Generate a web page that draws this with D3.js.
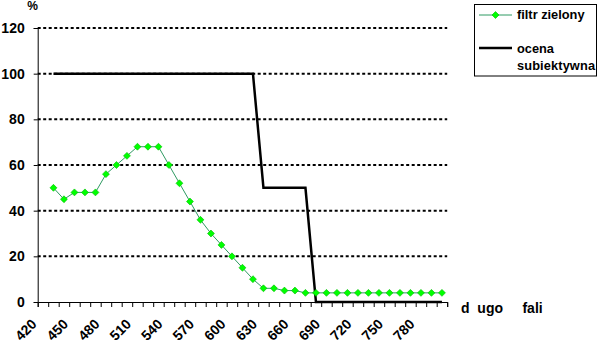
<!DOCTYPE html>
<html>
<head>
<meta charset="utf-8">
<script src="https://cdn.jsdelivr.net/npm/d3@7"></script>
<style>
  body { margin: 0; background: #fff; }
  svg { display: block; font-family: "Liberation Sans", Arial, sans-serif; font-weight: bold; }
</style>
</head>
<body>
<svg width="601" height="349"></svg>
<script>
// categories (wavelength, nm)
const categories = d3.range(420, 801, 10);
const tickLabels = [420, 450, 480, 510, 540, 570, 600, 630, 660, 690, 720, 750, 780];
const yTicks = [0, 20, 40, 60, 80, 100, 120];

// series: values from 430 nm to 800 nm
const filtrZielony = [50, 45, 48, 48, 48, 56, 60, 64, 68, 68, 68, 60, 52, 44, 36, 30, 25, 20, 15, 10,
  6, 6, 5, 5, 4, 4, 4, 4, 4, 4, 4, 4, 4, 4, 4, 4, 4, 4];
const ocenaSubiektywna = [100, 100, 100, 100, 100, 100, 100, 100, 100, 100, 100, 100, 100, 100, 100, 100, 100, 100, 100, 100,
  50, 50, 50, 50, 50, 0, 0, 0, 0, 0, 0, 0, 0, 0, 0, 0, 0, 0];
const seriesStart = 430;

const svg = d3.select('svg');
const plotLeft = 37.7, plotRight = 447.2, plotTop = 28, plotBottom = 302;

const x = d3.scaleBand().domain(categories).range([plotLeft, plotRight]);
const xc = (c) => x(c) + x.bandwidth() / 2;
const xIdx = d3.scaleLinear().domain([0, categories.length]).range([plotLeft, plotRight]);
const y = d3.scaleLinear().domain([0, 120]).range([plotBottom, plotTop]);

const toPoints = (vals) => vals.map((v, i) => ({cat: seriesStart + i * 10, value: v}));

// gridlines
svg.append('g')
  .selectAll('line')
  .data(yTicks.filter((d) => d > 0))
  .enter().append('line')
  .attr('x1', plotLeft).attr('x2', plotRight)
  .attr('y1', (d) => y(d)).attr('y2', (d) => y(d))
  .attr('stroke', '#000')
  .attr('stroke-width', 2)
  .attr('stroke-dasharray', '3,2.5');

// y axis
const yAxis = svg.append('g')
  .attr('transform', 'translate(' + plotLeft + ',0)')
  .call(d3.axisLeft(y).tickValues(yTicks).tickSize(4).tickPadding(9));
yAxis.select('.domain').attr('stroke', '#000');
yAxis.selectAll('text')
  .attr('font-size', 14).attr('font-weight', 'bold')
  .attr('font-family', '"Liberation Sans", Arial, sans-serif').attr('fill', '#000');

// x axis (ticks between categories)
const xAxis = svg.append('g')
  .attr('transform', 'translate(0,' + plotBottom + ')')
  .call(d3.axisBottom(xIdx).tickValues(d3.range(categories.length + 1)).tickSize(5).tickFormat(''));
xAxis.select('.domain').attr('stroke', '#000');

svg.append('g')
  .selectAll('text')
  .data(tickLabels)
  .enter().append('text')
  .attr('transform', (d) => 'translate(' + (xc(d) - 5.5) + ',' + 325 + ') rotate(-45)')
  .attr('text-anchor', 'end')
  .attr('font-size', 14)
  .text((d) => d);

svg.append('text')
  .attr('x', 32.5).attr('y', 10)
  .attr('text-anchor', 'middle')
  .attr('font-size', 12)
  .text('%');

svg.append('text')
  .attr('x', 461).attr('y', 313)
  .attr('font-size', 14)
  .style('white-space', 'pre')
  .text('d  ugo     fali');

// ocena subiektywna
const line = d3.line().x((d) => xc(d.cat)).y((d) => y(d.value));
svg.append('path')
  .datum(toPoints(ocenaSubiektywna))
  .attr('fill', 'none')
  .attr('stroke', '#000')
  .attr('stroke-width', 2.5)
  .attr('d', line);

// filtr zielony
svg.append('path')
  .datum(toPoints(filtrZielony))
  .attr('fill', 'none')
  .attr('stroke', '#2f9a62')
  .attr('stroke-width', 1)
  .attr('d', line);

const marker = d3.symbol().type(d3.symbolSquare).size(24);
svg.append('g')
  .selectAll('path')
  .data(toPoints(filtrZielony))
  .enter().append('path')
  .attr('transform', (d) => 'translate(' + xc(d.cat) + ',' + y(d.value) + ') rotate(45)')
  .attr('d', marker)
  .attr('fill', '#00ff00')
  .attr('stroke', '#00c000')
  .attr('stroke-width', 0.6);

// legend
const legend = svg.append('g');
legend.append('rect')
  .attr('x', 474.5).attr('y', 4.5)
  .attr('width', 122).attr('height', 71.5)
  .attr('fill', '#fff').attr('stroke', '#000');
legend.append('line')
  .attr('x1', 479).attr('x2', 512).attr('y1', 15).attr('y2', 15)
  .attr('stroke', '#2f9a62');
legend.append('path')
  .attr('transform', 'translate(495.5,15) rotate(45)')
  .attr('d', marker)
  .attr('fill', '#00ff00').attr('stroke', '#00c000').attr('stroke-width', 0.6);
legend.append('text')
  .attr('x', 517).attr('y', 19)
  .attr('font-size', 12.8)
  .text('filtr zielony');
legend.append('line')
  .attr('x1', 479).attr('x2', 512).attr('y1', 48).attr('y2', 48)
  .attr('stroke', '#000').attr('stroke-width', 2.5);
legend.append('text')
  .attr('x', 517).attr('y', 52.5)
  .attr('font-size', 12.8)
  .text('ocena');
legend.append('text')
  .attr('x', 517).attr('y', 70)
  .attr('font-size', 12.8)
  .attr('textLength', 78)
  .text('subiektywna');
</script>
</body>
</html>
